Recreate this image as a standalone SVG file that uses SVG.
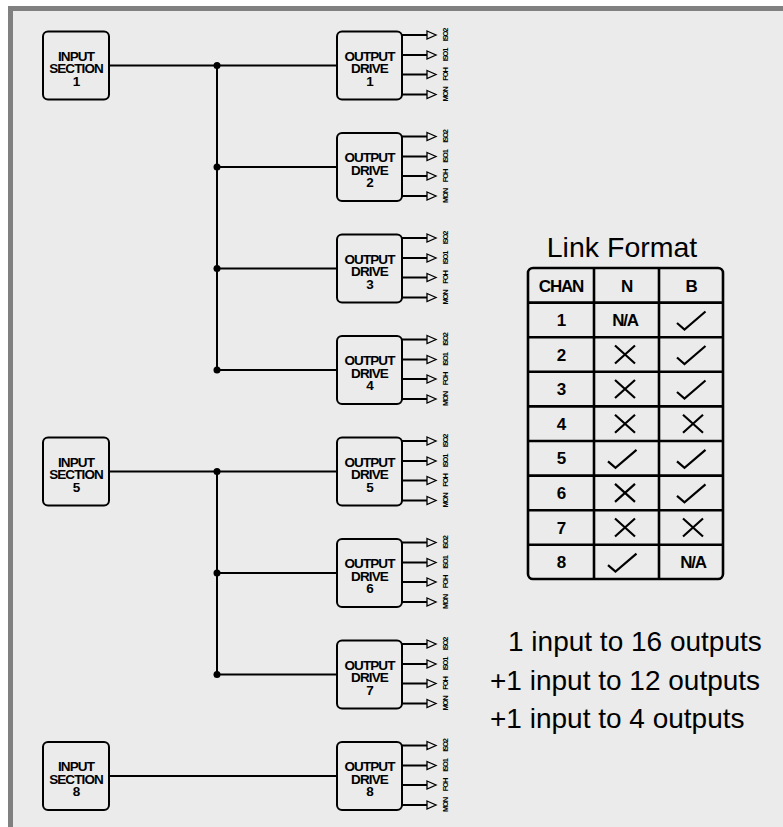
<svg xmlns="http://www.w3.org/2000/svg" width="783" height="827" viewBox="0 0 783 827">
<defs>
<style>
.box{fill:#ebebeb;stroke:#000;stroke-width:2}
.lbl{font-family:"Liberation Sans",Arial,sans-serif;font-weight:bold;font-size:13.5px;letter-spacing:-0.9px;text-anchor:middle;fill:#000}
.wire{stroke:#000;stroke-width:2;fill:none}
.arr{fill:#ebebeb;stroke:#000;stroke-width:1.3}
.tiny{font-family:"Liberation Sans",Arial,sans-serif;font-weight:bold;font-size:7.5px;letter-spacing:-1.1px;text-anchor:middle;fill:#000}
.grid{stroke:#000;stroke-width:2.6;fill:none}
.cell{font-family:"Liberation Sans",Arial,sans-serif;font-weight:bold;font-size:17px;letter-spacing:-1.2px;text-anchor:middle;fill:#000}
.mark{stroke:#000;stroke-width:2.2;fill:none}
.big{font-family:"Liberation Sans",Arial,sans-serif;font-size:28px;fill:#000}
</style>
<path id="chk" d="M-14,3 L-6.5,9.5 L14.5,-8.5" class="mark"/>
<path id="xx" d="M-10,-9 L10,9 M-10,9 L10,-9" class="mark"/>
<g id="outs">
<path d="M402,-30.5 H427 M402,-10.5 H427 M402,9 H427 M402,29 H427" class="wire"/>
<path d="M427,-34.5 L436,-30.5 L427,-26.5 Z M427,-14.5 L436,-10.5 L427,-6.5 Z M427,5 L436,9 L427,13 Z M427,25 L436,29 L427,33 Z" class="arr"/>
<text class="tiny" transform="translate(448,-30.5) rotate(-90)">ISO2</text>
<text class="tiny" transform="translate(448,-10.5) rotate(-90)">ISO1</text>
<text class="tiny" transform="translate(448,9) rotate(-90)">FOH</text>
<text class="tiny" transform="translate(448,29) rotate(-90)">MON</text>
</g>
</defs>
<rect x="0" y="0" width="783" height="827" fill="#ffffff"/>
<rect x="8" y="6" width="775" height="821" fill="#808080"/>
<rect x="13" y="11" width="770" height="816" fill="#ebebeb"/>

<g id="connectors">
<path class="wire" d="M109,65.5 H337 M217,65.5 V370 M217,167 H337 M217,268.5 H337 M217,370 H337"/>
<path class="wire" d="M109,471.5 H337 M217,471.5 V674.5 M217,573 H337 M217,674.5 H337"/>
<path class="wire" d="M109,776 H337"/>
<g fill="#000">
<circle cx="217" cy="65.5" r="3.5"/><circle cx="217" cy="167" r="3.5"/><circle cx="217" cy="268.5" r="3.5"/><circle cx="217" cy="370" r="3.5"/>
<circle cx="217" cy="471.5" r="3.5"/><circle cx="217" cy="573" r="3.5"/><circle cx="217" cy="674.5" r="3.5"/>
</g>
</g>

<g id="input1"><rect class="box" x="43" y="31.5" width="66" height="68" rx="5"/><text class="lbl" x="76" y="60.5">INPUT<tspan x="76" dy="12.5">SECTION</tspan><tspan x="76" dy="12.5">1</tspan></text></g>
<g id="input5"><rect class="box" x="43" y="437.5" width="66" height="68" rx="5"/><text class="lbl" x="76" y="466.5">INPUT<tspan x="76" dy="12.5">SECTION</tspan><tspan x="76" dy="12.5">5</tspan></text></g>
<g id="input8"><rect class="box" x="43" y="742" width="66" height="68" rx="5"/><text class="lbl" x="76" y="771">INPUT<tspan x="76" dy="12.5">SECTION</tspan><tspan x="76" dy="12.5">8</tspan></text></g>

<g id="out1"><rect class="box" x="337" y="31.5" width="65" height="68" rx="5"/><text class="lbl" x="369.5" y="60.5">OUTPUT<tspan x="369.5" dy="12.5">DRIVE</tspan><tspan x="369.5" dy="12.5">1</tspan></text><use href="#outs" transform="translate(0,65.5)"/></g>
<g id="out2"><rect class="box" x="337" y="133" width="65" height="68" rx="5"/><text class="lbl" x="369.5" y="162">OUTPUT<tspan x="369.5" dy="12.5">DRIVE</tspan><tspan x="369.5" dy="12.5">2</tspan></text><use href="#outs" transform="translate(0,167)"/></g>
<g id="out3"><rect class="box" x="337" y="234.5" width="65" height="68" rx="5"/><text class="lbl" x="369.5" y="263.5">OUTPUT<tspan x="369.5" dy="12.5">DRIVE</tspan><tspan x="369.5" dy="12.5">3</tspan></text><use href="#outs" transform="translate(0,268.5)"/></g>
<g id="out4"><rect class="box" x="337" y="336" width="65" height="68" rx="5"/><text class="lbl" x="369.5" y="365">OUTPUT<tspan x="369.5" dy="12.5">DRIVE</tspan><tspan x="369.5" dy="12.5">4</tspan></text><use href="#outs" transform="translate(0,370)"/></g>
<g id="out5"><rect class="box" x="337" y="437.5" width="65" height="68" rx="5"/><text class="lbl" x="369.5" y="466.5">OUTPUT<tspan x="369.5" dy="12.5">DRIVE</tspan><tspan x="369.5" dy="12.5">5</tspan></text><use href="#outs" transform="translate(0,471.5)"/></g>
<g id="out6"><rect class="box" x="337" y="539" width="65" height="68" rx="5"/><text class="lbl" x="369.5" y="568">OUTPUT<tspan x="369.5" dy="12.5">DRIVE</tspan><tspan x="369.5" dy="12.5">6</tspan></text><use href="#outs" transform="translate(0,573)"/></g>
<g id="out7"><rect class="box" x="337" y="640.5" width="65" height="68" rx="5"/><text class="lbl" x="369.5" y="669.5">OUTPUT<tspan x="369.5" dy="12.5">DRIVE</tspan><tspan x="369.5" dy="12.5">7</tspan></text><use href="#outs" transform="translate(0,674.5)"/></g>
<g id="out8"><rect class="box" x="337" y="742" width="65" height="68" rx="5"/><text class="lbl" x="369.5" y="771">OUTPUT<tspan x="369.5" dy="12.5">DRIVE</tspan><tspan x="369.5" dy="12.5">8</tspan></text><use href="#outs" transform="translate(0,776)"/></g>

<g id="table">
<text x="622" y="257" font-family="Liberation Sans, Arial, sans-serif" font-size="28.5" text-anchor="middle">Link Format</text>
<rect class="grid" x="528" y="268" width="195" height="311" rx="5"/>
<path class="grid" d="M594,268 V579 M659,268 V579 M528,302.6 H723 M528,337.2 H723 M528,371.8 H723 M528,406.4 H723 M528,441 H723 M528,475.6 H723 M528,510.2 H723 M528,544.8 H723"/>
<text class="cell" x="561" y="291.5">CHAN</text><text class="cell" x="626.5" y="291.5">N</text><text class="cell" x="691" y="291.5">B</text>
<text class="cell" x="561" y="326">1</text><text class="cell" x="625" y="326">N/A</text><use href="#chk" x="691" y="320"/>
<text class="cell" x="561" y="360.6">2</text><use href="#xx" x="625" y="354.5"/><use href="#chk" x="691" y="354.5"/>
<text class="cell" x="561" y="395.2">3</text><use href="#xx" x="625" y="389"/><use href="#chk" x="691" y="389"/>
<text class="cell" x="561" y="429.8">4</text><use href="#xx" x="625" y="423.7"/><use href="#xx" x="693" y="423.7"/>
<text class="cell" x="561" y="464.4">5</text><use href="#chk" x="622" y="458.3"/><use href="#chk" x="691" y="458.3"/>
<text class="cell" x="561" y="499">6</text><use href="#xx" x="625" y="492.9"/><use href="#chk" x="691" y="492.9"/>
<text class="cell" x="561" y="533.6">7</text><use href="#xx" x="625" y="527.5"/><use href="#xx" x="693" y="527.5"/>
<text class="cell" x="561" y="568.2">8</text><use href="#chk" x="622" y="562.1"/><text class="cell" x="693" y="568.2">N/A</text>
</g>

<g id="notes">
<text class="big" x="508" y="651">1 input to 16 outputs</text>
<text class="big" x="490" y="690">+1 input to 12 outputs</text>
<text class="big" x="490" y="728">+1 input to 4 outputs</text>
</g>
</svg>
